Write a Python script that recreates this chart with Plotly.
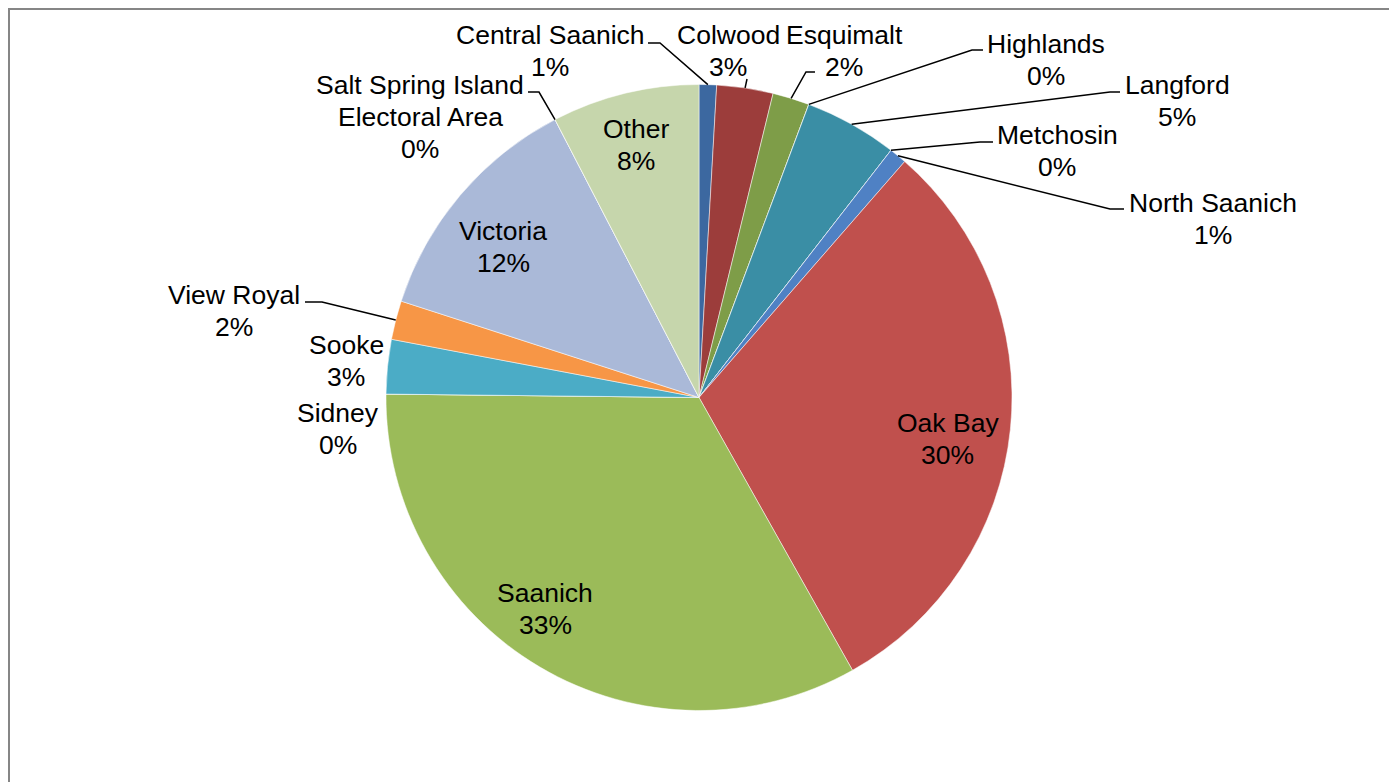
import math
import plotly.graph_objects as go

# ---- data ----
labels = ["Central Saanich", "Colwood", "Esquimalt", "Highlands", "Langford",
          "Metchosin", "North Saanich", "Oak Bay", "Saanich", "Sidney",
          "Sooke", "View Royal", "Victoria",
          "Salt Spring Island<br>Electoral Area", "Other"]
values = [0.9, 2.9, 1.9, 0.0, 4.8, 0.0, 0.9, 30.4, 33.3, 0.0, 2.8, 2.0, 12.4, 0.0, 7.6]
colors = ["#3C68A0", "#9C3D3B", "#7E9D48", "#664E85", "#3A8EA5", "#D57A2F",
          "#4F81C4", "#C0504D", "#9BBB59", "#8064A2", "#4BACC6", "#F79646",
          "#AAB9D8", "#D9A9A8", "#C6D6AC"]

# ---- layout constants (page pixels; page has an 8px body margin) ----
OFF = 8
W, H = 1389, 774
CX, CY, R = 699, 397.5, 313
FS = 26.5
LINE = 31.8

# label first-line center (x, y) in page px
label_pos = {
    "Central Saanich": (550, 35),
    "Colwood": (728, 35),
    "Esquimalt": (844, 35),
    "Highlands": (1046, 44),
    "Langford": (1177, 85),
    "Metchosin": (1057, 135),
    "North Saanich": (1213, 203),
    "Oak Bay": (948, 423),
    "Saanich": (545, 593),
    "Sidney": (338, 413),
    "Sooke": (346, 345),
    "View Royal": (234, 295),
    "Victoria": (503, 231),
    "Salt Spring Island<br>Electoral Area": (420, 85),
    "Other": (636, 129),
}
# leader elbows: list of page px points from label side toward slice
leaders = {
    "Central Saanich": [(648, 43), (660, 43)],
    "Colwood": [(747, 79)],
    "Esquimalt": [(815, 72), (806, 72)],
    "Highlands": [(983, 50), (972, 50)],
    "Langford": [(1120, 92), (1110, 92)],
    "Metchosin": [(993, 142), (980, 142)],
    "North Saanich": [(1124, 209), (1110, 209)],
    "Salt Spring Island<br>Electoral Area": [(528, 92), (539, 92)],
    "View Royal": [(305, 302), (322, 302)],
}


def px(x):
    return (x - OFF) / W


def py(y):
    return 1 - (y - OFF) / H


fig = go.Figure(go.Pie(
    labels=labels, values=values, sort=False, direction="clockwise", rotation=0,
    marker=dict(colors=colors, line=dict(color="white", width=0.5)),
    textinfo="none", hoverinfo="label+percent", showlegend=False,
    domain=dict(x=[px(CX - R), px(CX + R)], y=[py(CY + R), py(CY - R)]),
))

total = sum(values)
annotations = []
shapes = []
cum = 0.0
for lab, v in zip(labels, values):
    pct = round(v / total * 100)
    mid = (cum + v / 2) / total * 2 * math.pi
    cum += v
    x0, y0 = label_pos[lab]
    lines = lab.split("<br>") + [f"{pct}%"]
    for i, t in enumerate(lines):
        annotations.append(dict(
            x=px(x0), y=py(y0 + i * LINE), xref="paper", yref="paper",
            text=t, showarrow=False, xanchor="center", yanchor="middle",
            font=dict(family="Liberation Sans, Arial, sans-serif", size=FS, color="black"),
        ))
    if lab in leaders:
        ax = CX + R * math.sin(mid)
        ay = CY - R * math.cos(mid)
        pts = leaders[lab] + [(ax, ay)]
        path = "M " + " L ".join(f"{px(a):.5f},{py(b):.5f}" for a, b in pts)
        shapes.append(dict(type="path", xref="paper", yref="paper", path=path,
                           line=dict(color="black", width=1.5)))

# chart frame
shapes.append(dict(type="rect", xref="paper", yref="paper",
                   x0=px(9), x1=px(1390), y0=py(820), y1=py(9),
                   line=dict(color="#868686", width=2)))

fig.update_layout(
    width=W, height=H, margin=dict(l=0, r=0, t=0, b=0, pad=0),
    paper_bgcolor="white", plot_bgcolor="white",
    annotations=annotations, shapes=shapes,
)
fig.write_html("out.html")
